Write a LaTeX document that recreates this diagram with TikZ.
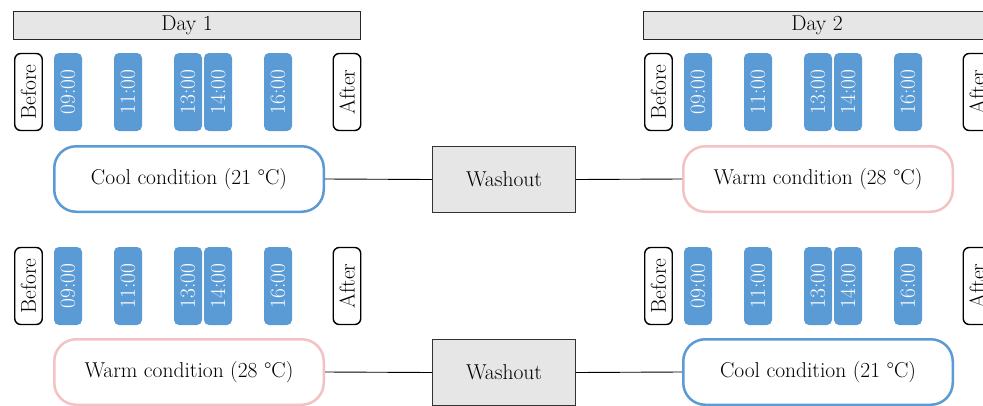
\documentclass[tikz,border=0pt]{standalone}
\usepackage{fontspec}
\definecolor{tblue}{RGB}{91,155,213}
\definecolor{wpink}{RGB}{244,194,194}
\definecolor{boxgray}{RGB}{230,230,230}
\begin{document}
\begin{tikzpicture}[x=1pt,y=1pt,
  every node/.style={font=\fontsize{21.5}{25}\selectfont, inner sep=0pt},
  hdr/.style={draw=black!85, line width=1.2pt, fill=boxgray, minimum width=347pt, minimum height=28pt},
  tbox/.style={fill=tblue, text=white, rounded corners=5pt, rotate=90, minimum width=78pt, minimum height=28pt},
  babox/.style={draw=black, line width=1.4pt, rounded corners=6pt, rotate=90, minimum width=77pt, minimum height=27.5pt},
  cond/.style={line width=2.5pt, rounded corners=22pt, minimum width=269.5pt, minimum height=65.5pt, fill=white},
  cool/.style={cond, draw=tblue},
  warm/.style={cond, draw=wpink},
  wash/.style={draw=black!80, line width=1pt, fill=boxgray, minimum width=143pt, minimum height=66pt},
  link/.style={draw=black, line width=0.9pt}]
\clip (0,0) rectangle (983,-405);
\fill[white] (0,0) rectangle (983,-405);
% ---------- headers ----------
\node[hdr] (h1) at (187,-25.5) {Day 1};
\node[hdr] (h2) at (817,-25.5) {Day 2};
% ---------- row 1, day 1 ----------
\node[babox] (b11) at (28.5,-92) {Before};
\node[tbox] (t11a) at (68,-92) {09:00};
\node[tbox] (t11b) at (128,-92) {11:00};
\node[tbox] (t11c) at (188,-92) {13:00};
\node[tbox] (t11d) at (218,-92) {14:00};
\node[tbox] (t11e) at (278,-92) {16:00};
\node[babox] (a11) at (347,-92) {After};
% ---------- row 1, day 2 ----------
\node[babox] (b12) at (658.5,-92) {Before};
\node[tbox] (t12a) at (698,-92) {09:00};
\node[tbox] (t12b) at (758,-92) {11:00};
\node[tbox] (t12c) at (818,-92) {13:00};
\node[tbox] (t12d) at (848,-92) {14:00};
\node[tbox] (t12e) at (908,-92) {16:00};
\node[babox] (a12) at (977,-92) {After};
% ---------- row 2, day 1 ----------
\node[babox] (b21) at (28.5,-286) {Before};
\node[tbox] (t21a) at (68,-286) {09:00};
\node[tbox] (t21b) at (128,-286) {11:00};
\node[tbox] (t21c) at (188,-286) {13:00};
\node[tbox] (t21d) at (218,-286) {14:00};
\node[tbox] (t21e) at (278,-286) {16:00};
\node[babox] (a21) at (347,-286) {After};
% ---------- row 2, day 2 ----------
\node[babox] (b22) at (658.5,-286) {Before};
\node[tbox] (t22a) at (698,-286) {09:00};
\node[tbox] (t22b) at (758,-286) {11:00};
\node[tbox] (t22c) at (818,-286) {13:00};
\node[tbox] (t22d) at (848,-286) {14:00};
\node[tbox] (t22e) at (908,-286) {16:00};
\node[babox] (a22) at (977,-286) {After};
% ---------- conditions and washouts ----------
\node[cool] (c11) at (189,-179) {Cool condition (21 °C)};
\node[wash] (w1) at (504,-179.5) {Washout};
\node[warm] (c12) at (818,-179) {Warm condition (28 °C)};
\node[warm] (c21) at (189,-372) {Warm condition (28 °C)};
\node[wash] (w2) at (504,-372.5) {Washout};
\node[cool] (c22) at (818,-372) {Cool condition (21 °C)};
\draw[link] (c11.east) -- (w1.west);
\draw[link] (w1.east) -- (c12.west);
\draw[link] (c21.east) -- (w2.west);
\draw[link] (w2.east) -- (c22.west);
\end{tikzpicture}
\end{document}
